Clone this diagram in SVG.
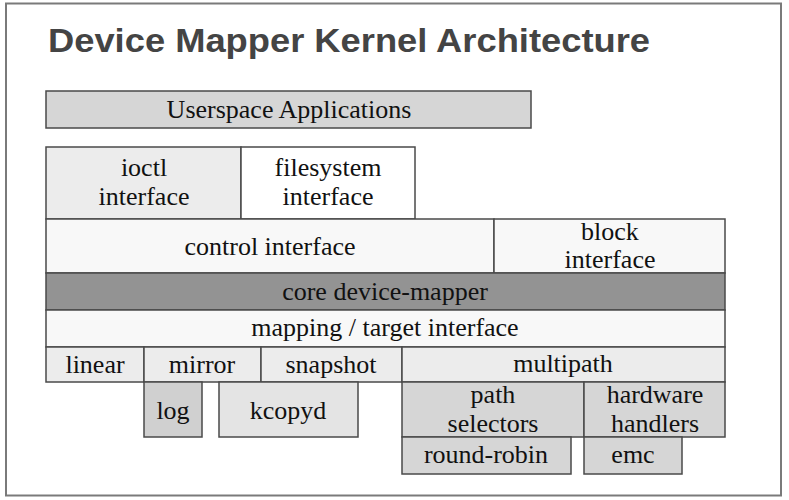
<svg xmlns="http://www.w3.org/2000/svg" width="789" height="500" viewBox="0 0 789 500">
<style>
.b{stroke:#4a4a4a;stroke-width:1.5}
.t{font-family:"Liberation Serif","DejaVu Serif",serif;font-size:26px;fill:#111;text-anchor:middle}
.ttl{font-family:"Liberation Sans","DejaVu Sans",sans-serif;font-weight:bold;font-size:34px;fill:#444}
</style>
<rect x="0" y="0" width="789" height="500" fill="#fff"/>
<rect x="6" y="3.5" width="775" height="492" fill="#fff" stroke="#7a7a7a" stroke-width="2"/>
<text class="ttl" x="48" y="52" textLength="602" lengthAdjust="spacingAndGlyphs">Device Mapper Kernel Architecture</text>
<g id="userspace"><rect class="b" x="46" y="91" width="485" height="37" fill="#d6d6d6"/><text class="t" x="289" y="118">Userspace Applications</text></g>
<g id="ioctl"><rect class="b" x="46" y="147" width="195" height="72" fill="#ececec"/><text class="t" x="144" y="176">ioctl</text><text class="t" x="144" y="205">interface</text></g>
<g id="filesystem"><rect class="b" x="241" y="147" width="174" height="72" fill="#fff"/><text class="t" x="328" y="176">filesystem</text><text class="t" x="328" y="205">interface</text></g>
<g id="control"><rect class="b" x="46" y="219" width="448" height="54" fill="#f8f8f8"/><text class="t" x="270" y="255">control interface</text></g>
<g id="block"><rect class="b" x="494" y="219" width="231" height="54" fill="#f8f8f8"/><text class="t" x="610" y="240">block</text><text class="t" x="610" y="268">interface</text></g>
<g id="core"><rect class="b" x="46" y="273" width="679" height="37" fill="#939393"/><text class="t" x="385" y="300">core device-mapper</text></g>
<g id="mapping"><rect class="b" x="46" y="310" width="679" height="37" fill="#f8f8f8"/><text class="t" x="385" y="336">mapping / target interface</text></g>
<g id="linear"><rect class="b" x="46" y="347" width="98" height="35" fill="#ececec"/><text class="t" x="95" y="373">linear</text></g>
<g id="mirror"><rect class="b" x="144" y="347" width="117" height="35" fill="#ececec"/><text class="t" x="202" y="373">mirror</text></g>
<g id="snapshot"><rect class="b" x="261" y="347" width="141" height="35" fill="#ececec"/><text class="t" x="331" y="373">snapshot</text></g>
<g id="multipath"><rect class="b" x="402" y="347" width="323" height="35" fill="#ececec"/><text class="t" x="563" y="372">multipath</text></g>
<g id="log"><rect class="b" x="144" y="382" width="58" height="55" fill="#d0d0d0"/><text class="t" x="173" y="419">log</text></g>
<g id="kcopyd"><rect class="b" x="219" y="382" width="139" height="55" fill="#e4e4e4"/><text class="t" x="288" y="419">kcopyd</text></g>
<g id="pathsel"><rect class="b" x="402" y="382" width="182" height="55" fill="#d6d6d6"/><text class="t" x="493" y="403">path</text><text class="t" x="493" y="432">selectors</text></g>
<g id="hwhandlers"><rect class="b" x="584" y="382" width="141" height="55" fill="#d6d6d6"/><text class="t" x="655" y="403">hardware</text><text class="t" x="655" y="432">handlers</text></g>
<g id="roundrobin"><rect class="b" x="402" y="437" width="169" height="37" fill="#d6d6d6"/><text class="t" x="486" y="463">round-robin</text></g>
<g id="emc"><rect class="b" x="584" y="437" width="98" height="37" fill="#d6d6d6"/><text class="t" x="633" y="463">emc</text></g>
<g id="connectors"></g>
</svg>
